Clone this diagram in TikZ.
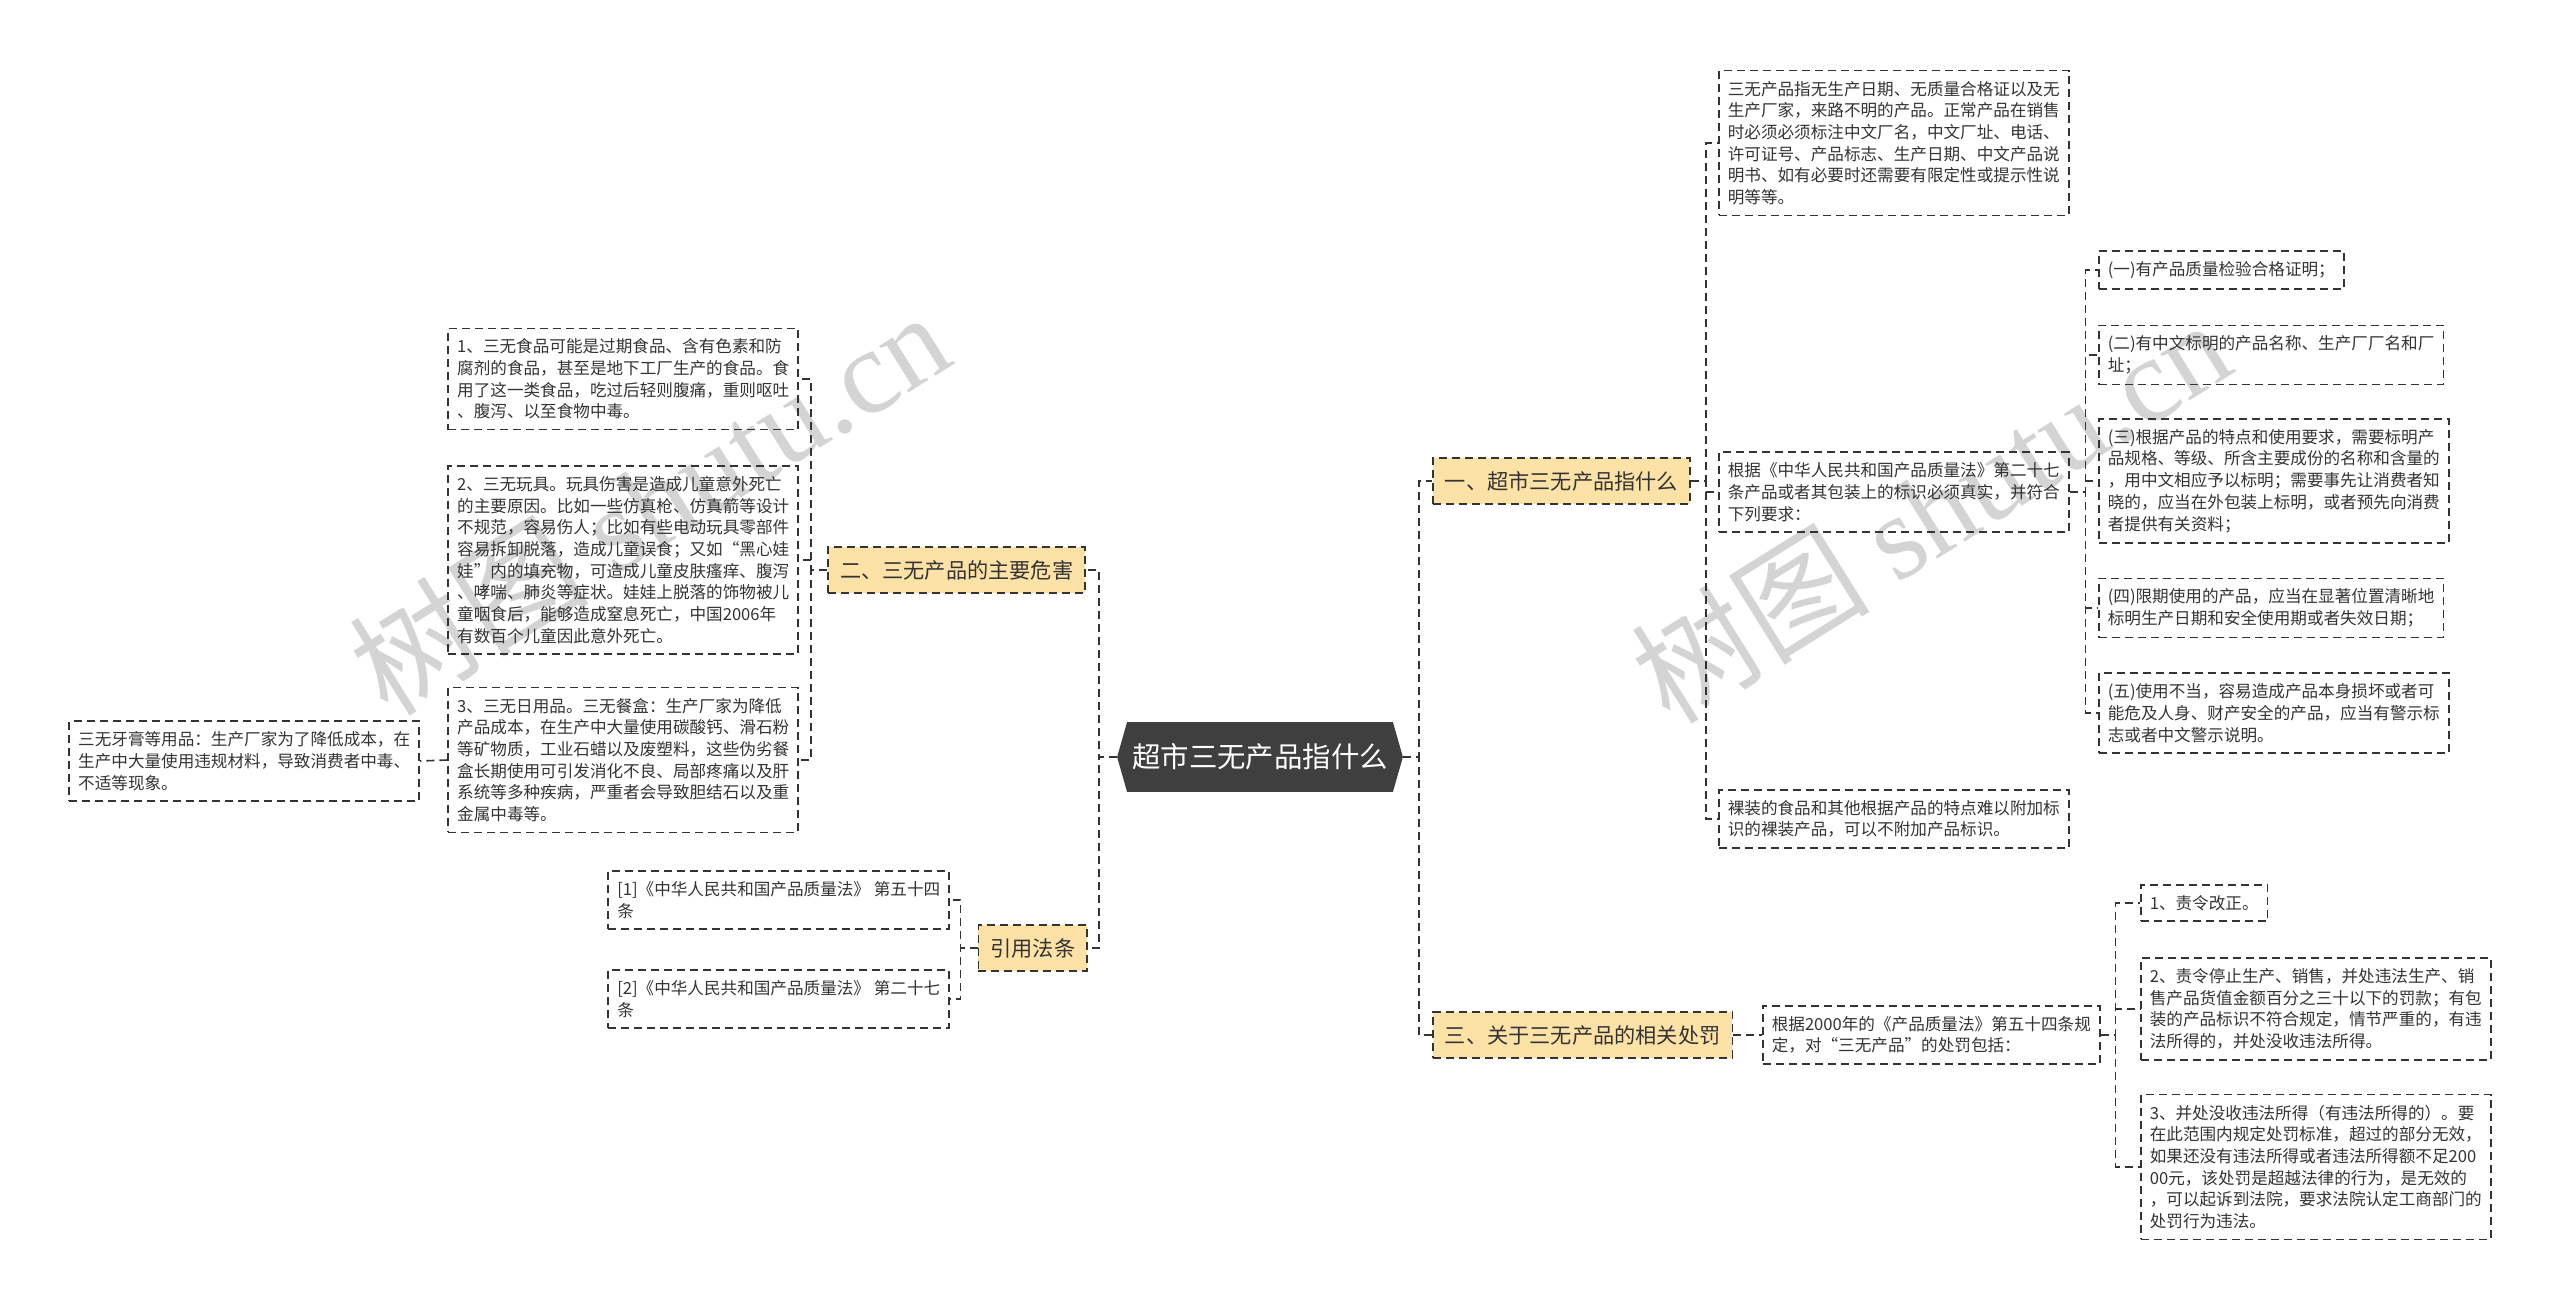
\documentclass[tikz,border=0pt]{standalone}
\usepackage{fontspec}
\setmainfont{Noto Sans CJK SC}
\newfontfamily\markfont{Liberation Serif}
\usetikzlibrary{backgrounds}
\definecolor{ink}{HTML}{333333}
\definecolor{topicfill}{HTML}{FDE2A8}
\definecolor{rootfill}{HTML}{3F3F3F}
\definecolor{markgray}{HTML}{D4D4D4}

\begin{document}
\begin{tikzpicture}[x=0.5pt,y=-0.5pt,
  leaf/.style={draw=ink,dash pattern=on 4pt off 2.5pt,line width=0.8pt,align=left,
    inner xsep=4.5pt,inner ysep=5.2pt,text=ink,font=\fontsize{8.3pt}{10.85pt}\selectfont},
  topic/.style={leaf,fill=topicfill,inner xsep=6pt,inner ysep=6.5pt,
    font=\fontsize{10.6pt}{13pt}\selectfont},
  hub/.style={minimum width=142.5pt,minimum height=34.5pt,inner sep=0pt,text=white,
    font=\fontsize{14.2pt}{17pt}\selectfont},
  link/.style={draw=ink,dash pattern=on 4pt off 2.5pt,line width=0.8pt},
  watermark/.style={rotate=32,text=markgray,font=\fontsize{60pt}{60pt}\selectfont}]

\useasboundingbox (0,0) rectangle (2560,1311);

% Centre
\node[hub] (root) at (1260,757) {超市三无产品指什么};
\begin{scope}[on background layer]
\fill[rootfill] ([xshift=5pt]root.north west) -- ([xshift=-5pt]root.north east) -- (root.east)
  -- ([xshift=-5pt]root.south east) -- ([xshift=5pt]root.south west) -- (root.west) -- cycle;
\end{scope}

% Topics
\node[topic,anchor=west] (one) at (1432,481) {一、超市三无产品指什么};
\node[topic,anchor=west] (three) at (1432,1035) {三、关于三无产品的相关处罚};
\node[topic,anchor=east] (two) at (1086,570) {二、三无产品的主要危害};
\node[topic,anchor=east] (cite) at (1088,948) {引用法条};

\draw[link] (root.east) -- ++(16,0) |- (one.west);
\draw[link] (root.east) -- ++(16,0) |- (three.west);
\draw[link] (root.west) -- ++(-18,0) |- (two.east);
\draw[link] (root.west) -- ++(-18,0) |- (cite.east);

% 一
\node[leaf,anchor=west] (defn) at (1718,143) {三无产品指无生产日期、无质量合格证以及无\\生产厂家，来路不明的产品。正常产品在销售\\时必须必须标注中文厂名，中文厂址、电话、\\许可证号、产品标志、生产日期、中文产品说\\明书、如有必要时还需要有限定性或提示性说\\明等等。};
\node[leaf,anchor=west] (law) at (1718,492) {根据《中华人民共和国产品质量法》第二十七\\条产品或者其包装上的标识必须真实，并符合\\下列要求：};
\node[leaf,anchor=west] (bare) at (1718,819) {裸装的食品和其他根据产品的特点难以附加标\\识的裸装产品，可以不附加产品标识。};

\draw[link] (one.east) -- ++(15,0) |- (defn.west);
\draw[link] (one.east) -- ++(15,0) |- (law.west);
\draw[link] (one.east) -- ++(15,0) |- (bare.west);

\node[leaf,anchor=west] (req1) at (2098,270) {(一)有产品质量检验合格证明；};
\node[leaf,anchor=west] (req2) at (2098,355) {(二)有中文标明的产品名称、生产厂厂名和厂\\址；};
\node[leaf,anchor=west] (req3) at (2098,481) {(三)根据产品的特点和使用要求，需要标明产\\品规格、等级、所含主要成份的名称和含量的\\，用中文相应予以标明；需要事先让消费者知\\晓的，应当在外包装上标明，或者预先向消费\\者提供有关资料；};
\node[leaf,anchor=west] (req4) at (2098,608) {(四)限期使用的产品，应当在显著位置清晰地\\标明生产日期和安全使用期或者失效日期；};
\node[leaf,anchor=west] (req5) at (2098,713) {(五)使用不当，容易造成产品本身损坏或者可\\能危及人身、财产安全的产品，应当有警示标\\志或者中文警示说明。};

\foreach \r in {req1,req2,req3,req4,req5}
  \draw[link] (law.east) -- ++(16,0) |- (\r.west);

% 三
\node[leaf,anchor=west] (fine) at (1762,1035) {根据2000年的《产品质量法》第五十四条规\\定，对“三无产品”的处罚包括：};
\draw[link] (three.east) -- ++(15,0) |- (fine.west);

\node[leaf,anchor=west] (pen1) at (2140,903) {1、责令改正。};
\node[leaf,anchor=west] (pen2) at (2140,1009) {2、责令停止生产、销售，并处违法生产、销\\售产品货值金额百分之三十以下的罚款；有包\\装的产品标识不符合规定，情节严重的，有违\\法所得的，并处没收违法所得。};
\node[leaf,anchor=west] (pen3) at (2140,1167) {3、并处没收违法所得（有违法所得的）。要\\在此范围内规定处罚标准，超过的部分无效，\\如果还没有违法所得或者违法所得额不足200\\00元，该处罚是超越法律的行为，是无效的\\，可以起诉到法院，要求法院认定工商部门的\\处罚行为违法。};

\foreach \p in {pen1,pen2,pen3}
  \draw[link] (fine.east) -- ++(15,0) |- (\p.west);

% 二
\node[leaf,anchor=east] (harm1) at (799,379) {1、三无食品可能是过期食品、含有色素和防\\腐剂的食品，甚至是地下工厂生产的食品。食\\用了这一类食品，吃过后轻则腹痛，重则呕吐\\、腹泻、以至食物中毒。};
\node[leaf,anchor=east] (harm2) at (799,560) {2、三无玩具。玩具伤害是造成儿童意外死亡\\的主要原因。比如一些仿真枪、仿真箭等设计\\不规范，容易伤人；比如有些电动玩具零部件\\容易拆卸脱落，造成儿童误食；又如“黑心娃\\娃”内的填充物，可造成儿童皮肤瘙痒、腹泻\\、哮喘、肺炎等症状。娃娃上脱落的饰物被儿\\童咽食后，能够造成窒息死亡，中国2006年\\有数百个儿童因此意外死亡。};
\node[leaf,anchor=east] (harm3) at (799,760) {3、三无日用品。三无餐盒：生产厂家为降低\\产品成本，在生产中大量使用碳酸钙、滑石粉\\等矿物质，工业石蜡以及废塑料，这些伪劣餐\\盒长期使用可引发消化不良、局部疼痛以及肝\\系统等多种疾病，严重者会导致胆结石以及重\\金属中毒等。};

\foreach \h in {harm1,harm2,harm3}
  \draw[link] (two.west) -- ++(-16,0) |- (\h.east);

\node[leaf,anchor=east] (paste) at (420,761) {三无牙膏等用品：生产厂家为了降低成本，在\\生产中大量使用违规材料，导致消费者中毒、\\不适等现象。};
\draw[link] (harm3.west) -- (paste.east);

% 引用法条
\node[leaf,anchor=east] (ref1) at (950,900) {[1]《中华人民共和国产品质量法》 第五十四\\条};
\node[leaf,anchor=east] (ref2) at (950,999) {[2]《中华人民共和国产品质量法》 第二十七\\条};

\draw[link] (cite.west) -- ++(-17,0) |- (ref1.east);
\draw[link] (cite.west) -- ++(-17,0) |- (ref2.east);

% Watermarks
\begin{scope}[on background layer]
\node[watermark] (wmleft) at (649,502) {树图 {\markfont shutu.cn}};
\node[watermark] (wmright) at (1930,510) {树图 {\markfont shutu.cn}};
\end{scope}

\end{tikzpicture}
\end{document}
